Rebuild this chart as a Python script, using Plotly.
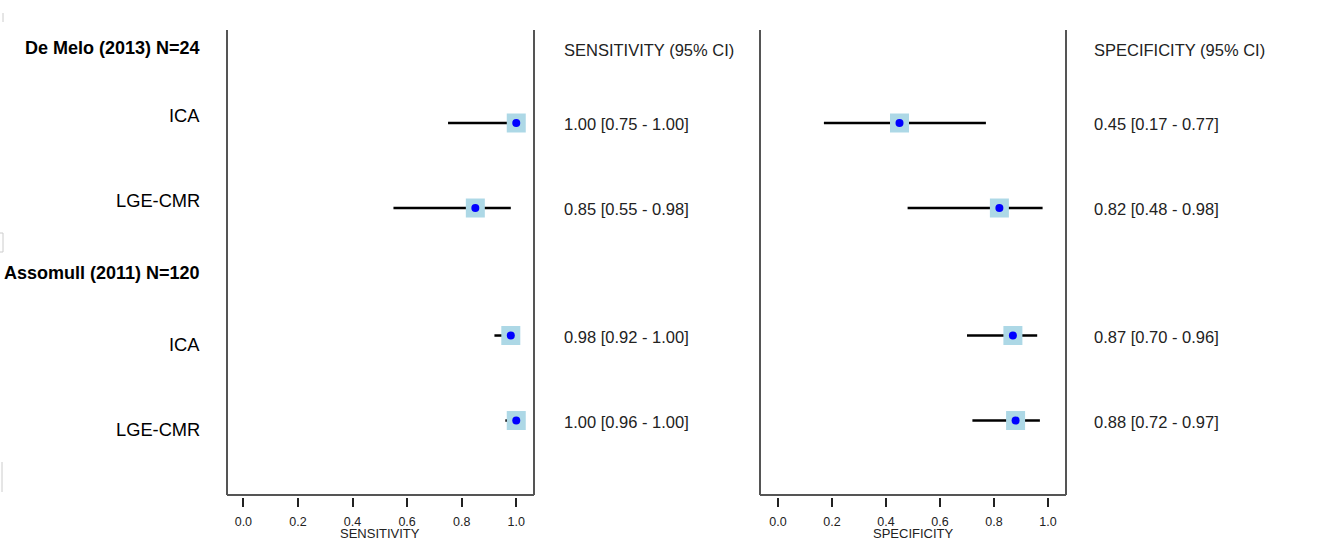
import plotly.graph_objects as go

W, H = 1319, 549

# ---- data ----
studies = ["De Melo (2013) N=24", "Assomull (2011) N=120"]
tests = ["ICA", "LGE-CMR", "ICA", "LGE-CMR"]
sens = [1.00, 0.85, 0.98, 1.00]
sens_lo = [0.75, 0.55, 0.92, 0.96]
sens_hi = [1.00, 0.98, 1.00, 1.00]
spec = [0.45, 0.82, 0.87, 0.88]
spec_lo = [0.17, 0.48, 0.70, 0.72]
spec_hi = [0.77, 0.98, 0.96, 0.97]
tick_vals = [0.0, 0.2, 0.4, 0.6, 0.8, 1.0]
tick_text = ["0.0", "0.2", "0.4", "0.6", "0.8", "1.0"]

# ---- layout constants (row positions in row units) ----
row_y = [1, 2, 3.5, 4.5]
header_y = [0.12, 2.765]
label_shift = [7, 8, -9, -9]
Y_RANGE = [5.376, -0.094]
FRAME_TOP, FRAME_BOT = 30, 495
P1 = (227, 534)   # sensitivity panel x pixels
P2 = (760, 1066)  # specificity panel x pixels
FONT = "Liberation Sans, Arial, sans-serif"


def px(x):
    return x / W


def py(y):
    return (H - y) / H


def fmt(v, lo, hi):
    return f"{v:.2f} [{lo:.2f} - {hi:.2f}]"


def ci_xy(lo, hi, ys):
    xs, yy = [], []
    for a, b, y in zip(lo, hi, ys):
        xs += [a, b, None]
        yy += [y, y, None]
    return xs, yy


fig = go.Figure()
for (est, lo, hi, xa) in [(sens, sens_lo, sens_hi, "x"), (spec, spec_lo, spec_hi, "x2")]:
    cx, cy = ci_xy(lo, hi, row_y)
    fig.add_trace(go.Scatter(x=cx, y=cy, xaxis=xa, yaxis="y", mode="lines",
                             line=dict(color="black", width=2.5), hoverinfo="skip",
                             showlegend=False))
    fig.add_trace(go.Scatter(x=est, y=row_y, xaxis=xa, yaxis="y", mode="markers",
                             marker=dict(symbol="square", size=19, color="#ADD8E6",
                                         line=dict(width=0)),
                             showlegend=False))
    fig.add_trace(go.Scatter(x=est, y=row_y, xaxis=xa, yaxis="y", mode="markers",
                             marker=dict(symbol="circle", size=8, color="#0000FF",
                                         line=dict(width=0)),
                             showlegend=False))

axis_pos = py(FRAME_BOT + 2)
common_x = dict(tickmode="array", tickvals=tick_vals, ticktext=tick_text,
                ticks="outside", ticklen=9, tickwidth=1.5, tickcolor="#222",
                ticklabelstandoff=4,
                showline=False, showgrid=False, zeroline=False,
                tickfont=dict(family=FONT, size=12.5, color="#222"),
                anchor="free", position=axis_pos, fixedrange=True)

fig.update_layout(
    width=W, height=H,
    margin=dict(l=0, r=0, t=0, b=0),
    paper_bgcolor="white", plot_bgcolor="white",
    xaxis=dict(domain=[px(P1[0]), px(P1[1])], range=[-0.06, 1.065], **common_x),
    xaxis2=dict(domain=[px(P2[0]), px(P2[1])], range=[-0.0667, 1.0667], **common_x),
    yaxis=dict(domain=[py(FRAME_BOT), py(FRAME_TOP)], range=Y_RANGE, visible=False,
               fixedrange=True),
    showlegend=False,
)

shapes = []
for (a, b) in [P1, P2]:
    for x0, y0, x1, y1 in [(a, FRAME_TOP, a, FRAME_BOT), (a, FRAME_BOT, b, FRAME_BOT),
                           (b, FRAME_BOT, b, FRAME_TOP)]:
        shapes.append(dict(type="line", xref="paper", yref="paper",
                           x0=px(x0), y0=py(y0), x1=px(x1), y1=py(y1),
                           line=dict(color="#555", width=2)))
# faint artefact marks at the left edge
shapes.append(dict(type="line", xref="paper", yref="paper", x0=px(3), x1=px(3),
                   y0=py(13), y1=py(22), line=dict(color="#ccc", width=1)))
shapes.append(dict(type="rect", xref="paper", yref="paper", x0=px(-1), x1=px(3),
                   y0=py(233), y1=py(252), line=dict(color="#ccc", width=1)))
shapes.append(dict(type="line", xref="paper", yref="paper", x0=px(2), x1=px(2),
                   y0=py(462), y1=py(492), line=dict(color="#ccc", width=1)))
fig.update_layout(shapes=shapes)

ann = []
for s, y in zip(studies, header_y):
    ann.append(dict(text=f"<b>{s}</b>", xref="paper", yref="y", x=px(202), y=y,
                    xanchor="right", yanchor="middle", showarrow=False,
                    font=dict(family=FONT, size=18, color="black")))
for t, y, sh in zip(tests, row_y, label_shift):
    ann.append(dict(text=t, xref="paper", yref="y", x=px(202), y=y, yshift=sh,
                    xanchor="right", yanchor="middle", showarrow=False,
                    font=dict(family=FONT, size=18.3, color="black")))
for hdr, xl, est, lo, hi in [("SENSITIVITY (95% CI)", 562, sens, sens_lo, sens_hi),
                              ("SPECIFICITY (95% CI)", 1092, spec, spec_lo, spec_hi)]:
    ann.append(dict(text=hdr, xref="paper", yref="y", x=px(xl), y=header_y[0], yshift=-2,
                    xanchor="left", yanchor="middle", showarrow=False,
                    font=dict(family=FONT, size=16.5, color="#222")))
    for v, l, h, y in zip(est, lo, hi, row_y):
        ann.append(dict(text=fmt(v, l, h), xref="paper", yref="y", x=px(xl), y=y,
                        yshift=-1, xanchor="left", yanchor="middle", showarrow=False,
                        font=dict(family=FONT, size=16.5, color="#222")))
for title, xa in [("SENSITIVITY", "x"), ("SPECIFICITY", "x2")]:
    ann.append(dict(text=title, xref=xa, yref="paper", x=0.5, y=py(533),
                    xanchor="center", yanchor="middle", showarrow=False,
                    font=dict(family=FONT, size=13, color="#222")))
fig.update_layout(annotations=ann)

fig.write_html("out.html", config={"displayModeBar": False},
               post_script="document.body.style.margin='0';document.body.style.overflow='hidden';")
